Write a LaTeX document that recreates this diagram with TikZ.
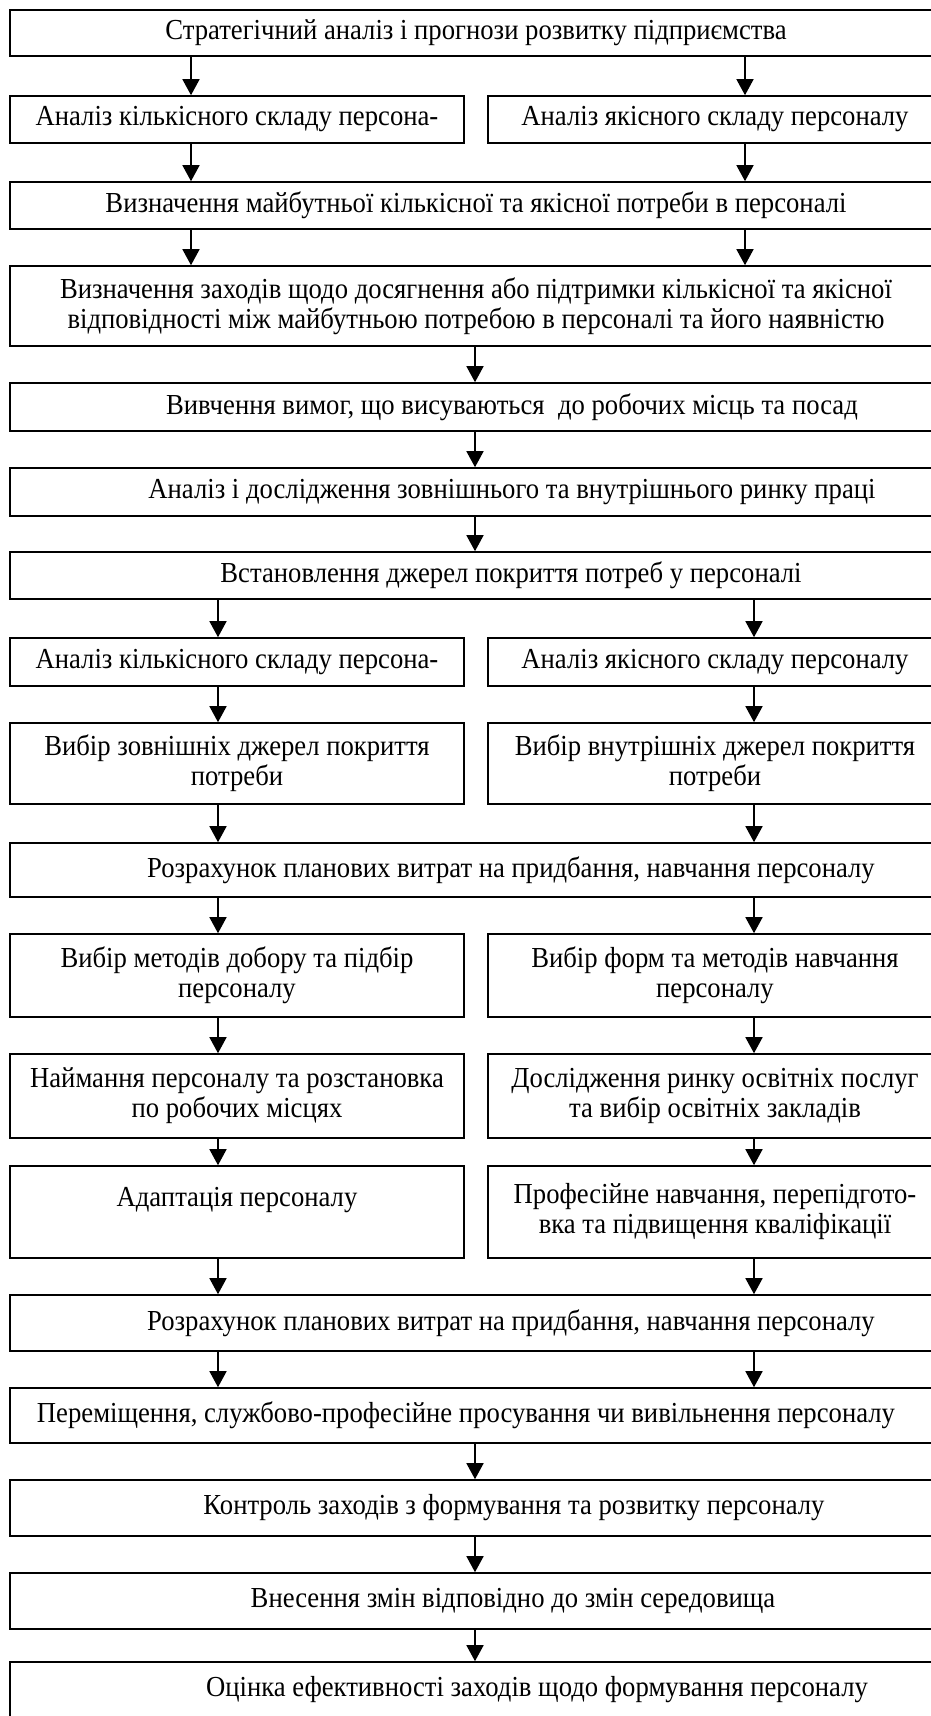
\documentclass[tikz,border=0pt]{standalone}
\usepackage{fontspec}
\setmainfont{Liberation Serif}[FakeStretch=0.92]
\usetikzlibrary{positioning,arrows.meta,calc}

\begin{document}
\begin{tikzpicture}[x=1pt,y=-1pt,
  box/.style={draw,line width=1.6pt,inner sep=0pt,align=center,font=\fontsize{29}{30}\selectfont},
  wide/.style={box,minimum width=932pt},
  half/.style={box,minimum width=454pt},
  indent/.style={execute at begin node={\hspace*{#1}}},
  arr/.style={line width=1.5pt,-{Triangle[length=16pt,width=17pt]}}]
\useasboundingbox (0,0) rectangle (931,1716);
\fill[white] (0,0) rectangle (931,1716);
\clip (0,0) rectangle (931,1716);

% arrow columns
\coordinate (upL) at (191,0);
\coordinate (upR) at (745,0);
\coordinate (mid) at (475,0);
\coordinate (lowL) at (218,0);
\coordinate (lowR) at (754,0);

% Planning and analysis
\node[wide,minimum height=46pt] (strat) at (476,33) {Стратегічний аналіз і прогнози розвитку підприємства};
\node[half,minimum height=47pt] (kilk) at (237,119.5) {Аналіз кількісного складу персона-};
\node[half,minimum height=47pt] (yakis) at (715,119.5) {Аналіз якісного складу персоналу};
\node[wide,minimum height=47pt] (potreba) at (476,205.5) {Визначення майбутньої кількісної та якісної потреби в персоналі};
\node[wide,minimum height=80pt] (zakhody) at (476,306) {Визначення заходів щодо досягнення або підтримки кількісної та якісної\\відповідності між майбутньою потребою в персоналі та його наявністю};
\node[wide,minimum height=48pt,indent=72pt] (vymogy) at (476,407) {Вивчення вимог, що висуваються~ до робочих місць та посад};
\node[wide,minimum height=48pt,indent=72pt] (rynok) at (476,492) {Аналіз і дослідження зовнішнього та внутрішнього ринку праці};
\node[wide,minimum height=47pt,indent=70pt] (dzherela) at (476,575.5) {Встановлення джерел покриття потреб у персоналі};

% Sources of cover
\node[half,minimum height=48pt] (kilk2) at (237,662) {Аналіз кількісного складу персона-};
\node[half,minimum height=48pt] (yakis2) at (715,662) {Аналіз якісного складу персоналу};
\node[half,minimum height=81pt] (zovn) at (237,763.5) {Вибір зовнішніх джерел покриття\\потреби};
\node[half,minimum height=81pt] (vnutr) at (715,763.5) {Вибір внутрішніх джерел покриття\\потреби};
\node[wide,minimum height=54pt,indent=70pt] (vytraty) at (476,870) {Розрахунок планових витрат на придбання, навчання персоналу};

% Hiring and training
\node[half,minimum height=83pt] (dobir) at (237,975.5) {Вибір методів добору та підбір\\персоналу};
\node[half,minimum height=83pt] (formy) at (715,975.5) {Вибір форм та методів навчання\\персоналу};
\node[half,minimum height=84pt] (naim) at (237,1096) {Наймання персоналу та розстановка\\по робочих місцях};
\node[half,minimum height=84pt] (poslugy) at (715,1096) {Дослідження ринку освітніх послуг\\та вибір освітніх закладів};
\node[half,minimum height=92pt] (adapt) at (237,1212) {Адаптація персоналу\\~};
\node[half,minimum height=92pt] (navch) at (715,1212) {Професійне навчання, перепідгото-\\вка та підвищення кваліфікації};

% Control
\node[wide,minimum height=56pt,indent=70pt] (vytraty2) at (476,1323) {Розрахунок планових витрат на придбання, навчання персоналу};
\node[wide,minimum height=55pt,indent=-20pt] (peremish) at (476,1415.5) {Переміщення, службово-професійне просування чи вивільнення персоналу};
\node[wide,minimum height=56pt,indent=76pt] (kontrol) at (476,1508) {Контроль заходів з формування та розвитку персоналу};
\node[wide,minimum height=56pt,indent=74pt] (zminy) at (476,1601) {Внесення змін відповідно до змін середовища};
\node[wide,minimum height=56pt,indent=122pt] (otsinka) at (476,1690) {Оцінка ефективності заходів щодо формування персоналу};

% arrows
\draw[arr] (strat.south -| upL) -- (kilk.north -| upL);
\draw[arr] (strat.south -| upR) -- (yakis.north -| upR);
\draw[arr] (kilk.south -| upL) -- (potreba.north -| upL);
\draw[arr] (yakis.south -| upR) -- (potreba.north -| upR);
\draw[arr] (potreba.south -| upL) -- (zakhody.north -| upL);
\draw[arr] (potreba.south -| upR) -- (zakhody.north -| upR);
\draw[arr] (zakhody.south -| mid) -- (vymogy.north -| mid);
\draw[arr] (vymogy.south -| mid) -- (rynok.north -| mid);
\draw[arr] (rynok.south -| mid) -- (dzherela.north -| mid);
\draw[arr] (dzherela.south -| lowL) -- (kilk2.north -| lowL);
\draw[arr] (dzherela.south -| lowR) -- (yakis2.north -| lowR);
\draw[arr] (kilk2.south -| lowL) -- (zovn.north -| lowL);
\draw[arr] (yakis2.south -| lowR) -- (vnutr.north -| lowR);
\draw[arr] (zovn.south -| lowL) -- (vytraty.north -| lowL);
\draw[arr] (vnutr.south -| lowR) -- (vytraty.north -| lowR);
\draw[arr] (vytraty.south -| lowL) -- (dobir.north -| lowL);
\draw[arr] (vytraty.south -| lowR) -- (formy.north -| lowR);
\draw[arr] (dobir.south -| lowL) -- (naim.north -| lowL);
\draw[arr] (formy.south -| lowR) -- (poslugy.north -| lowR);
\draw[arr] (naim.south -| lowL) -- (adapt.north -| lowL);
\draw[arr] (poslugy.south -| lowR) -- (navch.north -| lowR);
\draw[arr] (adapt.south -| lowL) -- (vytraty2.north -| lowL);
\draw[arr] (navch.south -| lowR) -- (vytraty2.north -| lowR);
\draw[arr] (vytraty2.south -| lowL) -- (peremish.north -| lowL);
\draw[arr] (vytraty2.south -| lowR) -- (peremish.north -| lowR);
\draw[arr] (peremish.south -| mid) -- (kontrol.north -| mid);
\draw[arr] (kontrol.south -| mid) -- (zminy.north -| mid);
\draw[arr] (zminy.south -| mid) -- (otsinka.north -| mid);
\end{tikzpicture}
\end{document}
